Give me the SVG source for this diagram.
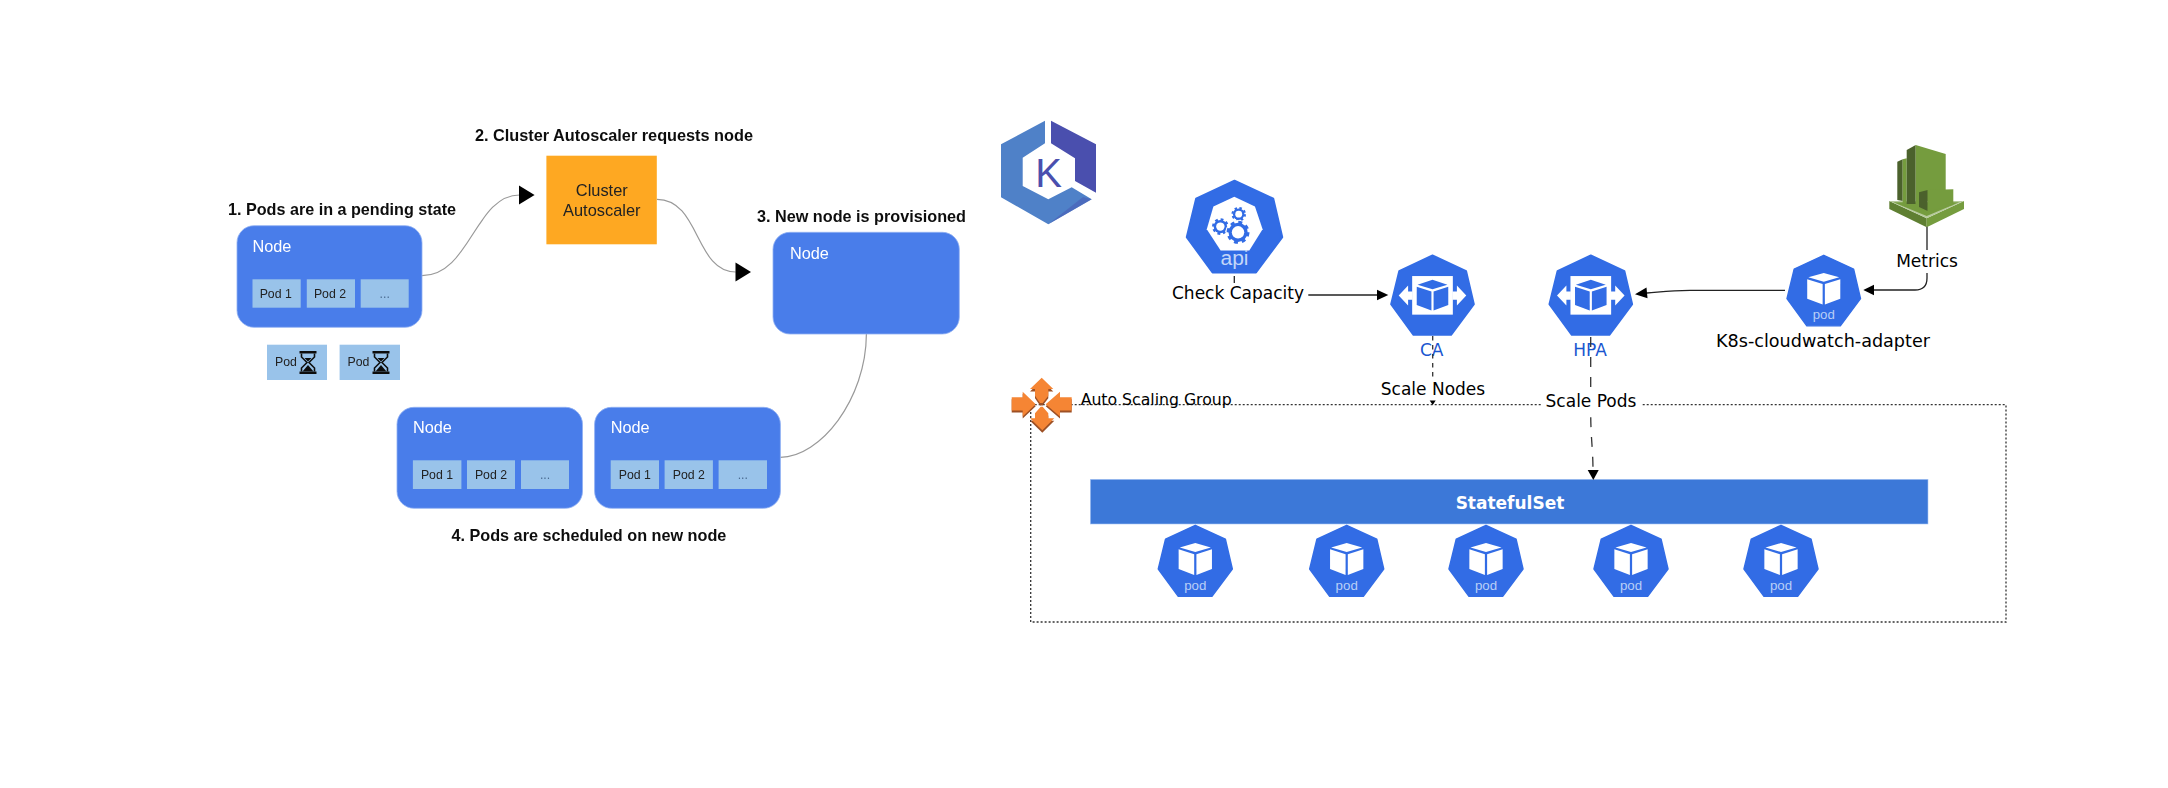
<svg xmlns="http://www.w3.org/2000/svg" width="2168" height="788" viewBox="0 0 2168 788">
<style>
.node{fill:#4a7dea;stroke:#8fb0f2;stroke-width:.8}
.box{fill:#99c3ea}
.t1{font:bold 16.3px "Liberation Sans",Arial,sans-serif;fill:#111}
.nl{font:16.3px "Liberation Sans",Arial,sans-serif;fill:#fff}
.pl{font:12.3px "Liberation Sans",Arial,sans-serif;fill:#222;text-anchor:middle}
.dots{font:12.3px "Liberation Sans",Arial,sans-serif;fill:#4a6a90;text-anchor:middle}
.ca{font:16.4px "Liberation Sans",Arial,sans-serif;fill:#222;text-anchor:middle}
.lab{font:17px "DejaVu Sans",sans-serif;fill:#000;text-anchor:middle}
.blue{font:17px "DejaVu Sans",sans-serif;fill:#1a56d0;text-anchor:middle}
.hl{font:18px "Liberation Sans",Arial,sans-serif;fill:#b9cff7;text-anchor:middle}
.hept{fill:#326ce5;stroke:#326ce5;stroke-width:2;stroke-linejoin:round}
.curve{fill:none;stroke:#999;stroke-width:1.2}
.solid{fill:none;stroke:#222;stroke-width:1.3}
.dash{fill:none;stroke:#333;stroke-width:1.3}
.bg{fill:#fff}
.as{fill:#f58534}
.asd{fill:#9d5025}
</style>
<defs>
<filter id="soft" x="-2%" y="-2%" width="104%" height="104%"><feGaussianBlur stdDeviation="0.45"/></filter>
<path id="hp" d="M50 0L90.6 18.8L100 59L72.5 96L27 96L0 59L9.8 18.8Z"/>
<g id="podshape">
<use href="#hp" class="hept"/>
<path fill="#fff" d="M50 24L71 30L50 36L29 30Z"/>
<path fill="#fff" d="M27.5 32.5L48.5 39V67L27.5 59Z"/>
<path fill="#fff" d="M51.5 39L72.5 32.5V59L51.5 67Z"/>
</g>
<g id="scaler">
<use href="#hp" class="hept"/>
<rect x="25.5" y="25" width="49" height="46.5" fill="#fff"/>
<path fill="#fff" d="M9.3 48.4L20.6 36.4V43.5H26V53.5H20.6V60.4Z"/>
<path fill="#fff" d="M90.7 48.4L79.4 36.4V43.5H74V53.5H79.4V60.4Z"/>
<path fill="#326ce5" d="M50 29.5L68 35.5L50 41L32 35.5Z"/>
<path fill="#326ce5" d="M31 38L48.7 43.5V66.5L31 60Z"/>
<path fill="#326ce5" d="M51.3 43.5L69 38V60L51.3 66.5Z"/>
</g>
<g id="hour">
<path fill="#111" d="M0 0H17V2.5H0ZM0 20.5H17V23H0Z"/>
<path fill="none" stroke="#111" stroke-width="1.6" d="M2 2.5V6L7.5 11.5L2 17V20.5M15 2.5V6L9.5 11.5L15 17V20.5"/>
<path fill="#111" d="M3 20.5L8.5 14L14 20.5ZM5 7H12L8.5 10.5Z"/>
</g>
<path id="a-up" d="M1041.7 377.7L1053.3 389H1048.3V395.7L1042.7 403H1040L1035 395.7V389H1030Z"/>
<path id="a-down" d="M1040.7 406.7H1042.7L1048.3 413.3V418.3H1054.3L1042.3 430.3L1030 418.3H1035V413.3Z"/>
<path id="a-left" d="M1011.7 397.3H1022.7V391.7L1035.7 404.3L1022.7 416.5V410.5H1011.7Z"/>
<path id="a-right" d="M1071.7 397.3H1060V391.7L1045.7 404.3L1060 416.5V410.5H1071.7Z"/>
</defs>

<g id="left-panel" filter="url(#soft)">
<text class="t1" x="228" y="215" textLength="228" lengthAdjust="spacingAndGlyphs">1. Pods are in a pending state</text>
<text class="t1" x="475" y="140.7" textLength="278" lengthAdjust="spacingAndGlyphs">2. Cluster Autoscaler requests node</text>
<text class="t1" x="757" y="222.3" textLength="209" lengthAdjust="spacingAndGlyphs">3. New node is provisioned</text>
<text class="t1" x="451.4" y="540.7" textLength="275" lengthAdjust="spacingAndGlyphs">4. Pods are scheduled on new node</text>

<g id="left-connectors">
<path class="curve" d="M422 275.7C470 275.7 475 195 519.6 195"/>
<path fill="#000" d="M519 185.5L534.6 195L519 204.5Z"/>
<path class="curve" d="M657 199.3C700 199.3 695 272 735.7 272"/>
<path fill="#000" d="M735.5 262.5L751 272L735.5 281.5Z"/>
<path class="curve" d="M866.4 334C866 400 820 457 780.4 457.3"/>
</g>

<g id="node-1">
<rect class="node" x="237" y="225.7" width="185" height="101.6" rx="17"/>
<text class="nl" x="252.5" y="252.3">Node</text>
<rect class="box" x="252.5" y="279.3" width="48.2" height="28.4"/><text class="pl" x="275.7" y="298">Pod 1</text>
<rect class="box" x="306.8" y="279.3" width="48.2" height="28.4"/><text class="pl" x="330" y="298">Pod 2</text>
<rect class="box" x="360.7" y="279.3" width="48" height="28.4"/><text class="dots" x="384.7" y="298">...</text>
</g>
<g id="pending-pod-1">
<rect class="box" x="267" y="344.7" width="60" height="35.3"/><text class="pl" x="286" y="366">Pod</text>
<use href="#hour" transform="translate(299.5,351)"/>
</g>
<g id="pending-pod-2">
<rect class="box" x="339.6" y="344.7" width="60.4" height="35.3"/><text class="pl" x="358.5" y="366">Pod</text>
<use href="#hour" transform="translate(372.5,351)"/>
</g>
<g id="cluster-autoscaler">
<rect x="546.4" y="155.7" width="110.4" height="88.6" fill="#fea821"/>
<text class="ca" x="601.8" y="196">Cluster</text>
<text class="ca" x="601.8" y="216">Autoscaler</text>
</g>
<g id="node-new">
<rect class="node" x="773" y="232.3" width="186.3" height="101.7" rx="17"/>
<text class="nl" x="790" y="259.3">Node</text>
</g>
<g id="node-a">
<rect class="node" x="397" y="407.3" width="185.5" height="101" rx="17"/>
<text class="nl" x="412.9" y="433.3">Node</text>
<rect class="box" x="412.9" y="460.3" width="48.5" height="28.7"/><text class="pl" x="437" y="479.3">Pod 1</text>
<rect class="box" x="467" y="460.3" width="48" height="28.7"/><text class="pl" x="491" y="479.3">Pod 2</text>
<rect class="box" x="521" y="460.3" width="48" height="28.7"/><text class="dots" x="545" y="479.3">...</text>
</g>
<g id="node-b">
<rect class="node" x="594.6" y="407.3" width="185.8" height="101" rx="17"/>
<text class="nl" x="610.7" y="433.3">Node</text>
<rect class="box" x="610.7" y="460.3" width="48.3" height="28.7"/><text class="pl" x="634.8" y="479.3">Pod 1</text>
<rect class="box" x="664.6" y="460.3" width="48.3" height="28.7"/><text class="pl" x="688.8" y="479.3">Pod 2</text>
<rect class="box" x="718.6" y="460.3" width="48.4" height="28.7"/><text class="dots" x="742.8" y="479.3">...</text>
</g>
</g>

<g id="eks-logo">
<path fill="#4f81c8" d="M1001 144.3L1045 120.7V143.3L1022.7 157.7V186L1048.3 199.3L1071.7 187.3L1091.7 199.3L1048.3 224.3L1001 197.3Z"/>
<path fill="#4a62b8" d="M1091.7 199.3L1048.3 224.3L1083 197Z" opacity=".7"/>
<path fill="#4a4fae" d="M1051 120.7L1096 144.3V192.7L1075 181V158.3L1051 143.3Z"/>
<text x="1048.7" y="186.7" font-family="Liberation Sans, Arial, sans-serif" font-size="40" fill="#4a4fae" text-anchor="middle">K</text>
</g>

<g id="asg-boundary">
<rect x="1030.7" y="404.7" width="975.3" height="217.3" fill="none" stroke="#333" stroke-width="1.3" stroke-dasharray="2 2"/>
</g>
<g id="asg-icon">
<use href="#a-up" class="asd" transform="translate(0,2.5)"/>
<use href="#a-down" class="asd" transform="translate(0,2.5)"/>
<use href="#a-left" class="asd" transform="translate(0,2)"/>
<use href="#a-right" class="asd" transform="translate(0,2)"/>
<use href="#a-up" class="as"/>
<use href="#a-down" class="as"/>
<use href="#a-left" class="as"/>
<use href="#a-right" class="as"/>
</g>
<g id="statefulset">
<rect x="1090.3" y="479.3" width="837.7" height="44.7" fill="#3c78d8" stroke="#a9c5f3" stroke-width=".6"/>
<text x="1510" y="508.7" font-family="DejaVu Sans, sans-serif" font-weight="700" font-size="17" fill="#fff" text-anchor="middle">StatefulSet</text>
</g>
<g id="pod-1" transform="translate(1158.3,525.3) scale(.74)"><use href="#podshape"/><text class="hl" x="50" y="87">pod</text></g>
<g id="pod-2" transform="translate(1309.7,525.3) scale(.74)"><use href="#podshape"/><text class="hl" x="50" y="87">pod</text></g>
<g id="pod-3" transform="translate(1449,525.3) scale(.74)"><use href="#podshape"/><text class="hl" x="50" y="87">pod</text></g>
<g id="pod-4" transform="translate(1594,525.3) scale(.74)"><use href="#podshape"/><text class="hl" x="50" y="87">pod</text></g>
<g id="pod-5" transform="translate(1744,525.3) scale(.74)"><use href="#podshape"/><text class="hl" x="50" y="87">pod</text></g>

<g id="api" transform="translate(1186.7,180.7) scale(.956)">
<use href="#hp" class="hept"/>
<path fill="#fff" d="M49.8 16.7L71.4 27.1L79.4 50.8L65.5 73H35.5L21 50.8L27.9 27.1Z"/>
<circle cx="54.4" cy="35" r="6"  fill="#326ce5"/>
<circle cx="54.4" cy="35" r="6.5" fill="none" stroke="#326ce5" stroke-width="2.2" stroke-dasharray="2.55 2.55"/>
<circle cx="54.4" cy="35" r="3.6" fill="#fff"/>
<circle cx="35.2" cy="48" r="7" fill="#326ce5"/>
<circle cx="35.2" cy="48" r="7.5" fill="none" stroke="#326ce5" stroke-width="2.4" stroke-dasharray="2.95 2.95"/>
<circle cx="35.2" cy="48" r="4.4" fill="#fff"/>
<circle cx="53.7" cy="54" r="13" fill="#fff"/>
<circle cx="53.7" cy="54" r="10" fill="#326ce5"/>
<circle cx="53.7" cy="54" r="10.5" fill="none" stroke="#326ce5" stroke-width="3" stroke-dasharray="4.12 4.12"/>
<circle cx="53.7" cy="54" r="6.5" fill="#fff"/>
<text x="50" y="88" font-family="Liberation Sans, Arial, sans-serif" font-size="22" fill="#c3d6f8" text-anchor="middle">api</text>
</g>
<g id="ca">
<use href="#scaler" transform="translate(1391,255.3) scale(.83)"/>
<text class="blue" x="1431.7" y="356">CA</text>
</g>
<g id="hpa">
<use href="#scaler" transform="translate(1549.3,255.3) scale(.83)"/>
<text class="blue" x="1590" y="356">HPA</text>
</g>
<g id="adapter">
<g transform="translate(1787,255.3) scale(.735)"><use href="#podshape"/><text class="hl" x="50" y="87">pod</text></g>
<text class="lab" x="1823" y="346.7" style="font-size:17.6px">K8s-cloudwatch-adapter</text>
</g>
<g id="cloudwatch">
<path fill="#5f7f32" d="M1889.3 201L1926.7 218.3V227.3L1889.3 209Z"/>
<path fill="#759c3e" d="M1964 201L1926.7 218.3V227.3L1964 209Z"/>
<path fill="#b7ca9d" d="M1889.3 201H1964L1926.7 218.3Z"/>
<path fill="#759c3e" d="M1893.3 202.3H1959.3L1926.7 216Z"/>
<path fill="#4b612c" d="M1897.3 161.7L1902.7 159.3V201L1897.3 200Z"/>
<path fill="#759c3e" d="M1902.7 159.3L1906.7 158.3V204H1902.7Z"/>
<path fill="#4b612c" d="M1906.7 150L1915.7 145V204H1906.7Z"/>
<path fill="#759c3e" d="M1915.7 145L1945.7 154V195L1915.7 205Z"/>
<path fill="#4b612c" d="M1919 192.3L1927.7 190V211L1919 207Z"/>
<path fill="#759c3e" d="M1927.7 190L1953.3 189.3V205L1927.7 211.5Z"/>
</g>

<g id="connectors">
<path class="solid" d="M1234.3 276V283"/>
<path class="solid" d="M1308.3 295H1377"/>
<path fill="#000" d="M1377 289.7L1388.3 295L1377 300.3Z"/>
<path class="dash" stroke-dasharray="4.5 4.5" d="M1432.7 336V379"/>
<path fill="#000" d="M1429.7 400.5H1435.7L1432.7 405Z"/>
<path class="dash" stroke-dasharray="10 10" d="M1590.7 337V410C1590.7 440 1592.8 445 1593 470"/>
<path fill="#000" d="M1587.7 470H1598.7L1593.3 480Z"/>
<path class="solid" d="M1785 290.3H1690C1670 290.3 1660 292 1647 293"/>
<path fill="#000" d="M1646.5 287.5L1635 294.3L1647.5 298.3Z"/>
<path class="solid" d="M1927 226.7V278Q1927 290 1915 290H1874"/>
<path fill="#000" d="M1874 284.7L1863.3 290L1874 295.3Z"/>
</g>

<g id="labels">
<rect class="bg" x="1170" y="283" width="137" height="23"/>
<text class="lab" x="1238" y="299">Check Capacity</text>
<rect class="bg" x="1378" y="379" width="110" height="20"/>
<text class="lab" x="1433" y="394.7">Scale Nodes</text>
<rect class="bg" x="1541" y="391" width="100" height="22"/>
<text class="lab" x="1591" y="406.7">Scale Pods</text>
<rect class="bg" x="1895" y="250" width="64" height="23"/>
<text class="lab" x="1927" y="266.7">Metrics</text>
<text x="1080.7" y="405" font-family="DejaVu Sans, sans-serif" font-size="16" fill="#000" textLength="151" lengthAdjust="spacingAndGlyphs">Auto Scaling Group</text>
</g>
</svg>
